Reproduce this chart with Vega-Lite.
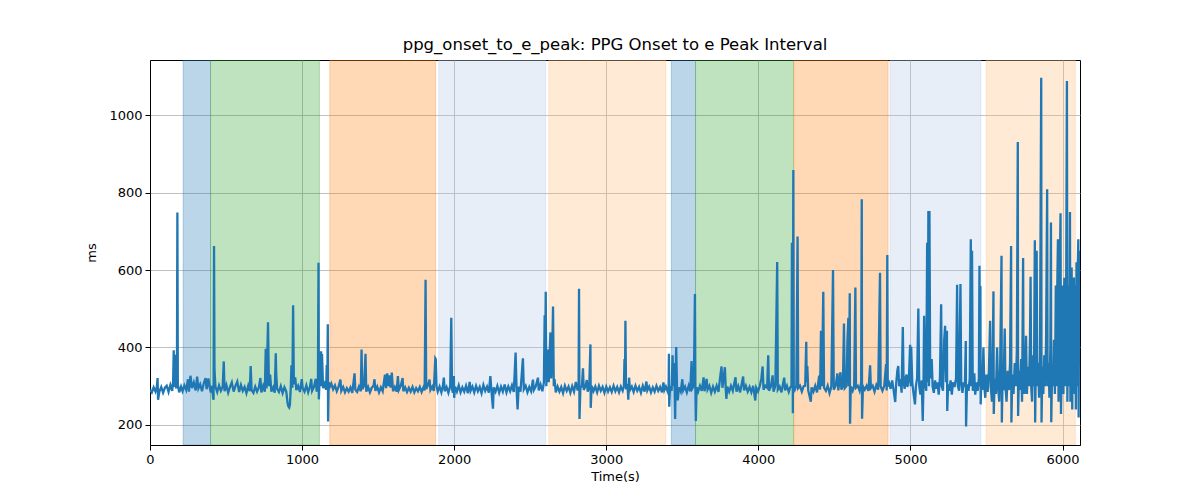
{
  "$schema": "https://vega.github.io/schema/vega-lite/v6.json",
  "autosize": {"type": "none"},
  "width": 930,
  "height": 385,
  "padding": {"left": 150, "top": 60, "right": 120, "bottom": 55},
  "background": "white",
  "title": {
    "text": "ppg_onset_to_e_peak: PPG Onset to e Peak Interval",
    "font": "DejaVu Sans",
    "fontSize": 16.5,
    "fontWeight": "normal",
    "color": "black",
    "anchor": "middle",
    "offset": 7
  },
  "datasets": {
    "bands": [
      {"start": 218, "end": 398, "phase": "a"},
      {"start": 398, "end": 1114, "phase": "b"},
      {"start": 1182, "end": 1878, "phase": "c"},
      {"start": 1898, "end": 2602, "phase": "d"},
      {"start": 2622, "end": 3392, "phase": "e"},
      {"start": 3428, "end": 3587, "phase": "a"},
      {"start": 3587, "end": 4231, "phase": "b"},
      {"start": 4234, "end": 4853, "phase": "c"},
      {"start": 4866, "end": 5463, "phase": "d"},
      {"start": 5498, "end": 6084, "phase": "e"}
    ],
    "series": [
      {"t":0,"v":291},{"t":12,"v":284},{"t":24,"v":297},{"t":36,"v":286},{"t":45,"v":299},{"t":50,"v":321},{"t":53,"v":265},{"t":62,"v":287},{"t":74,"v":298},{"t":86,"v":283},{"t":98,"v":296},{"t":110,"v":301},{"t":122,"v":285},{"t":134,"v":303},{"t":146,"v":288},{"t":152,"v":312},{"t":156,"v":393},{"t":160,"v":298},{"t":166,"v":381},{"t":172,"v":294},{"t":177,"v":322},{"t":180,"v":749},{"t":183,"v":304},{"t":192,"v":284},{"t":204,"v":299},{"t":214,"v":287},
      {"t":226,"v":302},{"t":238,"v":290},{"t":250,"v":318},{"t":256,"v":286},{"t":266,"v":327},{"t":276,"v":295},{"t":288,"v":310},{"t":300,"v":289},{"t":310,"v":325},{"t":318,"v":294},{"t":330,"v":305},{"t":342,"v":287},{"t":354,"v":308},{"t":366,"v":321},{"t":372,"v":292},{"t":384,"v":320},{"t":392,"v":298},
      {"t":400,"v":284},{"t":408,"v":301},{"t":415,"v":270},{"t":418,"v":265},{"t":421,"v":662},{"t":424,"v":344},{"t":430,"v":299},{"t":442,"v":285},{"t":454,"v":302},{"t":466,"v":288},{"t":478,"v":299},{"t":485,"v":364},{"t":490,"v":287},{"t":502,"v":303},{"t":514,"v":283},{"t":526,"v":298},{"t":538,"v":310},{"t":550,"v":286},{"t":562,"v":301},{"t":574,"v":312},{"t":586,"v":285},{"t":598,"v":303},{"t":610,"v":288},{"t":622,"v":298},{"t":634,"v":282},{"t":646,"v":301},{"t":656,"v":287},{"t":662,"v":352},{"t":668,"v":290},{"t":680,"v":283},{"t":692,"v":299},{"t":704,"v":286},{"t":716,"v":297},{"t":726,"v":321},{"t":732,"v":284},{"t":744,"v":301},{"t":755,"v":286},{"t":761,"v":397},{"t":766,"v":294},{"t":776,"v":465},{"t":782,"v":300},{"t":790,"v":330},{"t":798,"v":286},{"t":810,"v":297},{"t":820,"v":283},{"t":827,"v":385},{"t":830,"v":331},{"t":836,"v":293},{"t":848,"v":285},{"t":860,"v":300},{"t":872,"v":282},{"t":884,"v":297},{"t":896,"v":286},{"t":905,"v":255},{"t":910,"v":248},{"t":915,"v":245},{"t":920,"v":252},{"t":926,"v":300},{"t":930,"v":354},{"t":936,"v":296},{"t":941,"v":509},{"t":946,"v":305},{"t":955,"v":323},{"t":962,"v":290},{"t":974,"v":301},{"t":986,"v":285},{"t":998,"v":318},{"t":1004,"v":295},{"t":1016,"v":286},{"t":1028,"v":302},{"t":1040,"v":284},{"t":1052,"v":299},{"t":1060,"v":319},{"t":1066,"v":288},{"t":1078,"v":298},{"t":1090,"v":319},{"t":1096,"v":286},{"t":1104,"v":301},{"t":1108,"v":619},{"t":1110,"v":266},{"t":1114,"v":304},
      {"t":1125,"v":390},{"t":1128,"v":300},{"t":1131,"v":383},{"t":1138,"v":295},{"t":1148,"v":306},{"t":1158,"v":291},{"t":1162,"v":355},{"t":1166,"v":300},{"t":1169,"v":460},{"t":1171,"v":209},{"t":1175,"v":310},{"t":1182,"v":298},
      {"t":1192,"v":307},{"t":1204,"v":292},{"t":1216,"v":302},{"t":1228,"v":287},{"t":1240,"v":299},{"t":1252,"v":317},{"t":1258,"v":288},{"t":1270,"v":298},{"t":1282,"v":284},{"t":1294,"v":295},{"t":1306,"v":286},{"t":1318,"v":297},{"t":1330,"v":283},{"t":1345,"v":333},{"t":1350,"v":291},{"t":1362,"v":285},{"t":1374,"v":299},{"t":1386,"v":287},{"t":1391,"v":395},{"t":1396,"v":292},{"t":1408,"v":301},{"t":1417,"v":384},{"t":1422,"v":286},{"t":1434,"v":298},{"t":1446,"v":284},{"t":1458,"v":296},{"t":1470,"v":301},{"t":1476,"v":318},{"t":1482,"v":288},{"t":1494,"v":299},{"t":1506,"v":284},{"t":1518,"v":297},{"t":1530,"v":287},{"t":1545,"v":330},{"t":1552,"v":295},{"t":1560,"v":333},{"t":1568,"v":300},{"t":1575,"v":328},{"t":1582,"v":296},{"t":1590,"v":335},{"t":1598,"v":287},{"t":1610,"v":298},{"t":1622,"v":286},{"t":1630,"v":326},{"t":1636,"v":290},{"t":1648,"v":300},{"t":1661,"v":321},{"t":1666,"v":287},{"t":1678,"v":297},{"t":1690,"v":285},{"t":1702,"v":296},{"t":1714,"v":286},{"t":1726,"v":298},{"t":1738,"v":284},{"t":1750,"v":295},{"t":1762,"v":287},{"t":1774,"v":298},{"t":1786,"v":285},{"t":1798,"v":297},{"t":1806,"v":289},{"t":1812,"v":575},{"t":1816,"v":293},{"t":1826,"v":301},{"t":1838,"v":317},{"t":1844,"v":290},{"t":1856,"v":299},{"t":1866,"v":288},{"t":1876,"v":372},{"t":1879,"v":370},{"t":1884,"v":300},{"t":1892,"v":286},
      {"t":1904,"v":299},{"t":1916,"v":284},{"t":1926,"v":301},{"t":1932,"v":322},{"t":1938,"v":287},{"t":1950,"v":298},{"t":1962,"v":283},{"t":1974,"v":301},{"t":1981,"v":477},{"t":1986,"v":292},{"t":1992,"v":283},{"t":1998,"v":326},{"t":2000,"v":270},{"t":2006,"v":299},{"t":2018,"v":286},{"t":2030,"v":302},{"t":2042,"v":284},{"t":2054,"v":297},{"t":2066,"v":286},{"t":2078,"v":301},{"t":2090,"v":282},{"t":2102,"v":311},{"t":2108,"v":288},{"t":2120,"v":299},{"t":2132,"v":284},{"t":2144,"v":301},{"t":2156,"v":287},{"t":2168,"v":298},{"t":2180,"v":282},{"t":2192,"v":303},{"t":2204,"v":288},{"t":2216,"v":299},{"t":2228,"v":283},{"t":2238,"v":326},{"t":2244,"v":293},{"t":2255,"v":242},{"t":2260,"v":297},{"t":2272,"v":286},{"t":2284,"v":301},{"t":2296,"v":283},{"t":2308,"v":299},{"t":2320,"v":286},{"t":2332,"v":304},{"t":2344,"v":284},{"t":2356,"v":299},{"t":2368,"v":287},{"t":2380,"v":302},{"t":2392,"v":285},{"t":2404,"v":387},{"t":2410,"v":295},{"t":2417,"v":240},{"t":2424,"v":299},{"t":2436,"v":286},{"t":2452,"v":372},{"t":2458,"v":292},{"t":2470,"v":301},{"t":2482,"v":284},{"t":2494,"v":298},{"t":2506,"v":287},{"t":2518,"v":317},{"t":2524,"v":290},{"t":2536,"v":299},{"t":2551,"v":322},{"t":2556,"v":289},{"t":2568,"v":304},{"t":2580,"v":287},{"t":2590,"v":310},{"t":2595,"v":483},{"t":2598,"v":330},{"t":2602,"v":544},{"t":2606,"v":300},
      {"t":2612,"v":360},{"t":2618,"v":395},{"t":2622,"v":310},{"t":2627,"v":380},{"t":2633,"v":439},{"t":2638,"v":320},{"t":2645,"v":395},{"t":2650,"v":506},{"t":2655,"v":300},{"t":2660,"v":318},{"t":2668,"v":284},{"t":2680,"v":299},{"t":2692,"v":286},{"t":2704,"v":298},{"t":2716,"v":282},{"t":2728,"v":301},{"t":2740,"v":288},{"t":2752,"v":299},{"t":2764,"v":283},{"t":2776,"v":300},{"t":2788,"v":286},{"t":2800,"v":311},{"t":2812,"v":289},{"t":2818,"v":300},{"t":2821,"v":552},{"t":2824,"v":215},{"t":2830,"v":295},{"t":2840,"v":301},{"t":2847,"v":346},{"t":2852,"v":290},{"t":2864,"v":300},{"t":2872,"v":316},{"t":2878,"v":286},{"t":2888,"v":298},{"t":2896,"v":408},{"t":2898,"v":244},{"t":2904,"v":301},{"t":2916,"v":287},{"t":2928,"v":299},{"t":2940,"v":284},{"t":2952,"v":301},{"t":2964,"v":288},{"t":2976,"v":298},{"t":2988,"v":283},{"t":3000,"v":299},{"t":3012,"v":286},{"t":3024,"v":297},{"t":3036,"v":285},{"t":3048,"v":301},{"t":3060,"v":287},{"t":3072,"v":298},{"t":3084,"v":284},{"t":3096,"v":299},{"t":3108,"v":288},{"t":3116,"v":300},{"t":3120,"v":370},{"t":3123,"v":300},{"t":3126,"v":469},{"t":3130,"v":292},{"t":3140,"v":300},{"t":3145,"v":265},{"t":3150,"v":322},{"t":3156,"v":290},{"t":3168,"v":299},{"t":3180,"v":285},{"t":3192,"v":301},{"t":3204,"v":288},{"t":3216,"v":298},{"t":3228,"v":283},{"t":3240,"v":301},{"t":3252,"v":286},{"t":3264,"v":312},{"t":3270,"v":289},{"t":3282,"v":299},{"t":3294,"v":284},{"t":3306,"v":297},{"t":3318,"v":286},{"t":3330,"v":301},{"t":3342,"v":288},{"t":3354,"v":298},{"t":3366,"v":284},{"t":3376,"v":310},{"t":3382,"v":290},{"t":3392,"v":299},
      {"t":3404,"v":286},{"t":3410,"v":300},{"t":3412,"v":384},{"t":3414,"v":247},{"t":3420,"v":300},{"t":3430,"v":288},{"t":3436,"v":380},{"t":3440,"v":300},{"t":3446,"v":360},{"t":3450,"v":290},{"t":3453,"v":215},{"t":3456,"v":310},{"t":3460,"v":401},{"t":3465,"v":300},{"t":3470,"v":263},{"t":3478,"v":297},{"t":3490,"v":286},{"t":3500,"v":318},{"t":3506,"v":289},{"t":3518,"v":299},{"t":3530,"v":284},{"t":3542,"v":301},{"t":3552,"v":287},{"t":3561,"v":365},{"t":3566,"v":294},{"t":3576,"v":301},{"t":3583,"v":538},{"t":3586,"v":300},{"t":3589,"v":210},{"t":3594,"v":297},
      {"t":3604,"v":286},{"t":3616,"v":301},{"t":3628,"v":288},{"t":3640,"v":323},{"t":3646,"v":287},{"t":3660,"v":319},{"t":3666,"v":291},{"t":3678,"v":301},{"t":3690,"v":283},{"t":3702,"v":299},{"t":3714,"v":286},{"t":3726,"v":301},{"t":3738,"v":285},{"t":3748,"v":320},{"t":3758,"v":351},{"t":3764,"v":296},{"t":3772,"v":320},{"t":3780,"v":349},{"t":3786,"v":289},{"t":3790,"v":267},{"t":3796,"v":299},{"t":3808,"v":286},{"t":3820,"v":301},{"t":3832,"v":288},{"t":3850,"v":323},{"t":3856,"v":286},{"t":3868,"v":300},{"t":3880,"v":284},{"t":3900,"v":325},{"t":3906,"v":289},{"t":3918,"v":301},{"t":3930,"v":286},{"t":3942,"v":298},{"t":3954,"v":284},{"t":3966,"v":301},{"t":3980,"v":263},{"t":3986,"v":296},{"t":3998,"v":286},{"t":4010,"v":301},{"t":4020,"v":320},{"t":4028,"v":351},{"t":4034,"v":291},{"t":4046,"v":301},{"t":4058,"v":296},{"t":4065,"v":380},{"t":4070,"v":288},{"t":4082,"v":299},{"t":4094,"v":328},{"t":4100,"v":286},{"t":4112,"v":301},{"t":4124,"v":621},{"t":4128,"v":291},{"t":4140,"v":299},{"t":4152,"v":284},{"t":4170,"v":322},{"t":4176,"v":289},{"t":4188,"v":301},{"t":4200,"v":285},{"t":4210,"v":297},{"t":4218,"v":300},{"t":4221,"v":671},{"t":4223,"v":350},{"t":4225,"v":522},{"t":4227,"v":230},{"t":4230,"v":859},{"t":4233,"v":300},
      {"t":4240,"v":291},{"t":4250,"v":301},{"t":4258,"v":687},{"t":4262,"v":295},{"t":4274,"v":301},{"t":4286,"v":286},{"t":4298,"v":300},{"t":4308,"v":301},{"t":4315,"v":415},{"t":4318,"v":310},{"t":4322,"v":352},{"t":4328,"v":289},{"t":4345,"v":260},{"t":4350,"v":297},{"t":4362,"v":286},{"t":4374,"v":301},{"t":4386,"v":284},{"t":4400,"v":327},{"t":4406,"v":291},{"t":4412,"v":443},{"t":4418,"v":300},{"t":4427,"v":544},{"t":4432,"v":296},{"t":4444,"v":288},{"t":4456,"v":301},{"t":4468,"v":282},{"t":4480,"v":299},{"t":4491,"v":600},{"t":4496,"v":291},{"t":4508,"v":301},{"t":4520,"v":333},{"t":4526,"v":289},{"t":4540,"v":336},{"t":4546,"v":291},{"t":4556,"v":301},{"t":4563,"v":462},{"t":4568,"v":295},{"t":4580,"v":301},{"t":4586,"v":420},{"t":4592,"v":477},{"t":4596,"v":300},{"t":4601,"v":540},{"t":4603,"v":203},{"t":4608,"v":299},{"t":4620,"v":288},{"t":4630,"v":301},{"t":4638,"v":555},{"t":4642,"v":296},{"t":4654,"v":301},{"t":4666,"v":288},{"t":4676,"v":310},{"t":4680,"v":783},{"t":4682,"v":216},{"t":4688,"v":300},{"t":4700,"v":291},{"t":4712,"v":301},{"t":4724,"v":288},{"t":4735,"v":354},{"t":4740,"v":295},{"t":4752,"v":301},{"t":4764,"v":286},{"t":4776,"v":303},{"t":4788,"v":291},{"t":4800,"v":593},{"t":4804,"v":300},{"t":4816,"v":288},{"t":4828,"v":301},{"t":4840,"v":357},{"t":4844,"v":289},{"t":4848,"v":639},{"t":4851,"v":300},
      {"t":4860,"v":308},{"t":4870,"v":293},{"t":4880,"v":315},{"t":4890,"v":288},{"t":4900,"v":259},{"t":4906,"v":305},{"t":4914,"v":340},{"t":4920,"v":352},{"t":4926,"v":300},{"t":4934,"v":318},{"t":4942,"v":283},{"t":4950,"v":453},{"t":4955,"v":310},{"t":4962,"v":293},{"t":4970,"v":325},{"t":4975,"v":330},{"t":4980,"v":298},{"t":4990,"v":320},{"t":4998,"v":407},{"t":5002,"v":300},{"t":5005,"v":402},{"t":5012,"v":310},{"t":5020,"v":283},{"t":5030,"v":253},{"t":5036,"v":300},{"t":5044,"v":320},{"t":5052,"v":501},{"t":5058,"v":300},{"t":5066,"v":278},{"t":5074,"v":315},{"t":5081,"v":210},{"t":5086,"v":310},{"t":5090,"v":482},{"t":5096,"v":305},{"t":5104,"v":288},{"t":5110,"v":671},{"t":5114,"v":310},{"t":5118,"v":753},{"t":5122,"v":300},{"t":5125,"v":753},{"t":5130,"v":320},{"t":5140,"v":370},{"t":5146,"v":298},{"t":5154,"v":283},{"t":5162,"v":315},{"t":5170,"v":293},{"t":5178,"v":310},{"t":5186,"v":278},{"t":5194,"v":320},{"t":5202,"v":512},{"t":5206,"v":300},{"t":5214,"v":288},{"t":5222,"v":420},{"t":5228,"v":456},{"t":5234,"v":310},{"t":5240,"v":443},{"t":5242,"v":236},{"t":5248,"v":305},{"t":5256,"v":288},{"t":5264,"v":315},{"t":5272,"v":278},{"t":5280,"v":310},{"t":5290,"v":298},{"t":5300,"v":320},{"t":5307,"v":562},{"t":5312,"v":300},{"t":5320,"v":288},{"t":5329,"v":564},{"t":5334,"v":310},{"t":5342,"v":283},{"t":5350,"v":310},{"t":5358,"v":298},{"t":5364,"v":417},{"t":5366,"v":196},{"t":5372,"v":305},{"t":5382,"v":288},{"t":5390,"v":320},{"t":5397,"v":680},{"t":5400,"v":300},{"t":5405,"v":650},{"t":5410,"v":288},{"t":5420,"v":333},{"t":5426,"v":278},{"t":5434,"v":310},{"t":5442,"v":288},{"t":5450,"v":320},{"t":5454,"v":611},{"t":5457,"v":300},{"t":5460,"v":559},{"t":5462,"v":253},{"t":5466,"v":310},
      {"t":5472,"v":290},{"t":5480,"v":400},{"t":5486,"v":300},{"t":5492,"v":270},{"t":5500,"v":330},{"t":5508,"v":285},{"t":5516,"v":340},{"t":5524,"v":469},{"t":5528,"v":300},{"t":5536,"v":260},{"t":5540,"v":330},{"t":5546,"v":545},{"t":5548,"v":228},{"t":5554,"v":320},{"t":5562,"v":280},{"t":5570,"v":400},{"t":5576,"v":300},{"t":5584,"v":260},{"t":5590,"v":350},{"t":5599,"v":637},{"t":5601,"v":206},{"t":5606,"v":320},{"t":5612,"v":290},{"t":5620,"v":449},{"t":5625,"v":300},{"t":5632,"v":260},{"t":5640,"v":340},{"t":5648,"v":290},{"t":5655,"v":360},{"t":5662,"v":662},{"t":5664,"v":206},{"t":5670,"v":330},{"t":5678,"v":280},{"t":5686,"v":360},{"t":5694,"v":300},{"t":5700,"v":400},{"t":5706,"v":931},{"t":5708,"v":223},{"t":5714,"v":340},{"t":5720,"v":290},{"t":5728,"v":370},{"t":5734,"v":260},{"t":5741,"v":631},{"t":5744,"v":300},{"t":5750,"v":280},{"t":5756,"v":360},{"t":5760,"v":430},{"t":5766,"v":280},{"t":5772,"v":350},{"t":5780,"v":300},{"t":5786,"v":420},{"t":5790,"v":583},{"t":5794,"v":300},{"t":5800,"v":260},{"t":5806,"v":380},{"t":5812,"v":300},{"t":5818,"v":677},{"t":5820,"v":206},{"t":5824,"v":340},{"t":5830,"v":650},{"t":5834,"v":300},{"t":5840,"v":360},{"t":5846,"v":270},{"t":5852,"v":380},{"t":5860,"v":1097},{"t":5862,"v":206},{"t":5868,"v":350},{"t":5874,"v":280},{"t":5880,"v":380},{"t":5886,"v":300},{"t":5892,"v":420},{"t":5899,"v":809},{"t":5902,"v":300},{"t":5908,"v":360},{"t":5914,"v":270},{"t":5920,"v":400},{"t":5924,"v":723},{"t":5926,"v":207},{"t":5932,"v":350},{"t":5938,"v":300},{"t":5944,"v":420},{"t":5950,"v":280},{"t":5956,"v":560},{"t":5962,"v":300},{"t":5966,"v":570},{"t":5970,"v":680},{"t":5974,"v":260},{"t":5980,"v":520},{"t":5987,"v":747},{"t":5990,"v":228},{"t":5996,"v":400},{"t":6000,"v":560},{"t":6006,"v":280},{"t":6012,"v":580},{"t":6018,"v":300},{"t":6024,"v":540},{"t":6029,"v":1089},{"t":6032,"v":260},{"t":6038,"v":560},{"t":6044,"v":300},{"t":6049,"v":750},{"t":6052,"v":260},{"t":6056,"v":580},{"t":6060,"v":607},{"t":6064,"v":240},{"t":6068,"v":560},{"t":6072,"v":300},{"t":6075,"v":581},{"t":6080,"v":280},{"t":6084,"v":560},{"t":6088,"v":240},{"t":6092,"v":620},{"t":6096,"v":300},{"t":6100,"v":600},{"t":6104,"v":680},{"t":6106,"v":219},{"t":6110,"v":650}
    ]
  },
  "layer": [
    {
      "data": {"name": "bands"},
      "mark": {"type": "rect", "fillOpacity": 0.3, "strokeOpacity": 0.3, "strokeWidth": 1, "clip": true},
      "encoding": {
        "x": {"field": "start", "type": "quantitative"},
        "x2": {"field": "end"},
        "fill": {
          "field": "phase",
          "type": "nominal",
          "scale": {"domain": ["a", "b", "c", "d", "e"], "range": ["#1f77b4", "#2ca02c", "#ff7f0e", "#aec7e8", "#ffbb78"]},
          "legend": null
        },
        "stroke": {
          "field": "phase",
          "type": "nominal",
          "scale": {"domain": ["a", "b", "c", "d", "e"], "range": ["#1f77b4", "#2ca02c", "#ff7f0e", "#aec7e8", "#ffbb78"]},
          "legend": null
        }
      }
    },
    {
      "data": {"name": "series"},
      "mark": {"type": "line", "color": "#1f77b4", "strokeWidth": 2.3, "clip": true},
      "encoding": {
        "x": {
          "field": "t",
          "type": "quantitative",
          "scale": {"domain": [0, 6115], "nice": false, "zero": false},
          "axis": {"title": "Time(s)", "format": "d", "values": [0, 1000, 2000, 3000, 4000, 5000, 6000], "labelFlush": false, "titlePadding": 4}
        },
        "y": {
          "field": "v",
          "type": "quantitative",
          "scale": {"domain": [148, 1143], "nice": false, "zero": false},
          "axis": {"title": "ms", "format": "d", "values": [200, 400, 600, 800, 1000], "labelFlush": false, "titlePadding": 10}
        }
      }
    }
  ],
  "config": {
    "font": "DejaVu Sans",
    "view": {"stroke": "black", "strokeWidth": 1},
    "axis": {
      "labelFont": "DejaVu Sans",
      "titleFont": "DejaVu Sans",
      "labelFontSize": 13,
      "titleFontSize": 13,
      "titleFontWeight": "normal",
      "labelColor": "black",
      "titleColor": "black",
      "domainColor": "black",
      "tickColor": "black",
      "tickSize": 5,
      "labelPadding": 3,
      "gridColor": "#b0b0b0",
      "gridWidth": 0.8,
      "gridOpacity": 1
    }
  }
}
